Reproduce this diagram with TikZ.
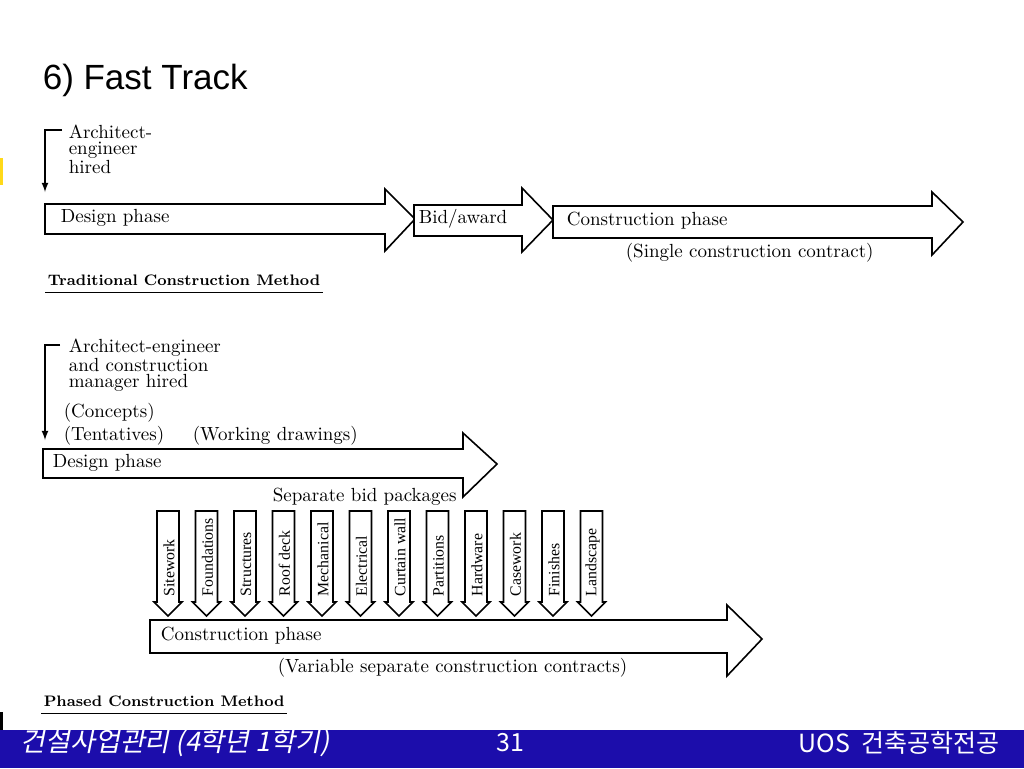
\documentclass[tikz,border=0pt]{standalone}
\usepackage{fontspec}
\usepackage{tikz}
\newfontfamily\krfont{Noto Sans CJK KR}
\newfontfamily\krslant[FakeSlant=0.2]{Noto Sans CJK KR}
\newfontfamily\pkgfont{Liberation Serif}
\newfontfamily\headfont{Liberation Sans}
\definecolor{footblue}{rgb}{0.11,0.05,0.67}
\definecolor{markyellow}{rgb}{1,0.85,0.1}

\begin{document}
\begin{tikzpicture}[x=0.5pt,y=-0.5pt,line width=0.8pt,
    lbl/.style={inner sep=0pt,anchor=west,font=\fontsize{9.5}{8.2}\selectfont},
    hiretext/.style={lbl,anchor=north west,align=left},
    method/.style={inner sep=0pt,anchor=west,font=\fontsize{7.6}{10}\selectfont\bfseries},
    pkg/.style={inner sep=0pt,anchor=west,rotate=90,font=\fontsize{7.9}{9}\pkgfont},
    phase/.style={fill=white},
    hire/.style={line width=0.6pt,-latex},
    foot/.style={inner sep=0pt,white,font=\fontsize{12.5}{14}\krfont}]
    \useasboundingbox (0,0) rectangle (1024,768);
    % Title
    \node[inner sep=0pt,anchor=west,font=\fontsize{17.5}{20}\headfont] (title) at (42,80) {6) Fast Track};
    % Slide marks
    \fill[markyellow] (0,158) rectangle (3,185);
    \fill (0,712) rectangle (3,730);

    % Traditional construction method
    \node[hiretext] (hire1) at (68,124) {Architect-\\engineer\\hired};
    \coordinate (start1) at (45,192);
    \draw[hire] ([shift={(-6,6)}]hire1.north west) -| (start1);
    \draw[phase] (45,204) -- (385,204) -- (385,189) -- (415,219) -- (385,251) -- (385,234) -- (45,234) -- cycle;
    \draw[phase] (414,205) -- (522,205) -- (522,188) -- (553,220) -- (522,252) -- (522,236) -- (414,236) -- cycle;
    \draw[phase] (553,206) -- (932,206) -- (932,192) -- (963,222) -- (932,255) -- (932,238) -- (553,238) -- cycle;
    \node[lbl] (design1) at (60,218) {Design phase};
    \node[lbl] (bid) at (418,219) {Bid/award};
    \node[lbl] (constr1) at (566,221) {Construction phase};
    \node[lbl] (single) at (625,253) {(Single construction contract)};
    \node[method] (trad) at (47,280) {Traditional Construction Method};
    \draw[line width=0.7pt] ([shift={(-2,6)}]trad.south west) -- ([shift={(2,6)}]trad.south east);

    % Phased construction method
    \node[hiretext] (hire2) at (68,338) {Architect-engineer\\and construction\\manager hired};
    \coordinate (start2) at (45,440);
    \draw[hire] ([shift={(-8,7)}]hire2.north west) -| (start2);
    \node[lbl] (concepts) at (63,413) {(Concepts)};
    \node[lbl] (tentatives) at (63,436) {(Tentatives)};
    \node[lbl] (working) at (192,436) {(Working drawings)};
    \draw[phase] (43,449) -- (463,449) -- (463,433) -- (497,464) -- (463,497) -- (463,478) -- (43,478) -- cycle;
    \node[lbl] (design2) at (52,463) {Design phase};
    \node[lbl] (separate) at (272,497) {Separate bid packages};
    % Bid packages
    \foreach \name [count=\i from 0] in {Sitework,Foundations,Structures,Roof deck,Mechanical,Electrical,Curtain wall,Partitions,Hardware,Casework,Finishes,Landscape} {
      \pgfmathsetmacro{\cx}{168+38.5*\i}
      \draw[phase] (\cx-11,511) -- (\cx+11,511) -- (\cx+11,602) -- (\cx+14,602) -- (\cx,616) -- (\cx-14,602) -- (\cx-11,602) -- cycle;
      \node[pkg] (pack\i) at (\cx+1,597) {\name};
    }
    \draw[phase] (150,620) -- (727,620) -- (727,605) -- (762,639) -- (727,676) -- (727,653) -- (150,653) -- cycle;
    \node[lbl] (constr2) at (160,636) {Construction phase};
    \node[lbl] (variable) at (277,668) {(Variable separate construction contracts)};
    \node[method] (phased) at (43,701) {Phased Construction Method};
    \draw[line width=0.7pt] ([shift={(-2,6)}]phased.south west) -- ([shift={(2,6)}]phased.south east);

    % Footer
    \fill[footblue] (0,730) rectangle (1024,768);
    \node[foot,anchor=west,font=\fontsize{13.5}{14}\krslant] (course) at (20,743) {건설사업관리 (4학년 1학기)};
    \node[foot] (page) at (510,743) {31};
    \node[foot,anchor=east] (school) at (1000,743) {UOS\ \ 건축공학전공};
\end{tikzpicture}
\end{document}
